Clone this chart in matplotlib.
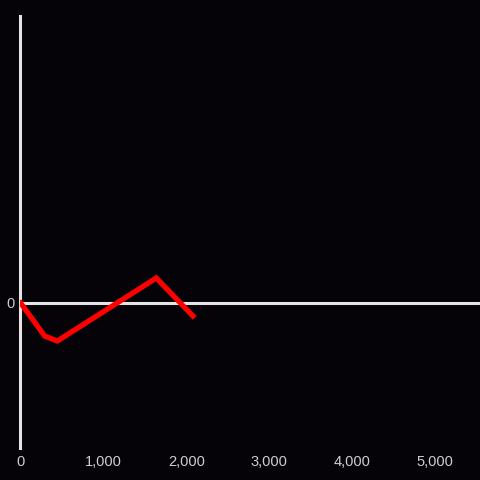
import matplotlib
matplotlib.use('Agg')
import matplotlib.pyplot as plt
from matplotlib.ticker import FuncFormatter

# data
xs = [0, 290, 443, 1638, 2080]
ys = [0, -33, -38, 25, -13]
xticks = [0, 1000, 2000, 3000, 4000, 5000]

bg = '#050307'
axis_col = '#e4e4e4'
label_col = '#cfcfcf'

plt.rcParams['font.family'] = ['Liberation Sans', 'DejaVu Sans']

fig = plt.figure(figsize=(4.8, 4.8), dpi=100, facecolor=bg)
ax = fig.add_axes([20 / 480, 32 / 480, 460 / 480, 432 / 480])
ax.set_facecolor(bg)

ax.set_xlim(-8, 5547)
ax.set_ylim(-145, 287)

ax.axhline(0, color=axis_col, lw=2.2, zorder=1)
ax.plot(xs, ys, color='#ff0000', lw=3.8, solid_joinstyle='miter', zorder=3)

for s in ['top', 'right', 'bottom']:
    ax.spines[s].set_visible(False)
ax.spines['left'].set_color(axis_col)
ax.spines['left'].set_linewidth(2.2)

ax.set_xticks(xticks)
ax.xaxis.set_major_formatter(FuncFormatter(lambda v, p: f'{int(v):,}'))
ax.set_yticks([0])
ax.tick_params(length=0, labelsize=10.5, labelcolor=label_col)
ax.tick_params(axis='x', pad=5)
ax.tick_params(axis='y', pad=4)

fig.savefig('out.png', dpi=100, facecolor=bg)
